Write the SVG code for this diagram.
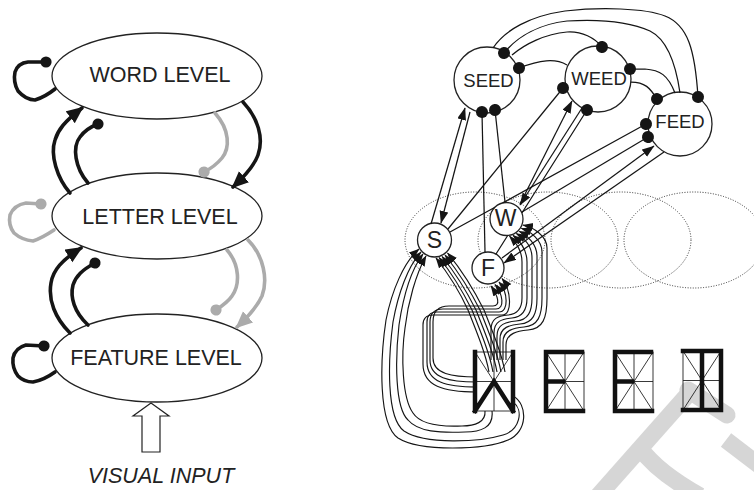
<svg xmlns="http://www.w3.org/2000/svg" width="754" height="490" viewBox="0 0 754 490">
<style>
.lbl{font-family:"Liberation Sans",Arial,Helvetica,sans-serif;fill:#222}
.big{font-size:21.5px}
.el{fill:#fff;stroke:#222;stroke-width:1.3}
.k{fill:none;stroke:#151515;stroke-width:3.6;stroke-linecap:round}
.g{fill:none;stroke:#ababab;stroke-width:3.6;stroke-linecap:round}
.ln{fill:none;stroke:#151515;stroke-width:1.25}
.tg{fill:none;stroke:#151515;stroke-width:1.15}
.pool{fill:none;stroke:#333;stroke-width:1;stroke-dasharray:1 1.6}
.nd{fill:#fff;stroke:#222;stroke-width:1.3}
.seg{fill:none;stroke:#222;stroke-width:0.9}
.on{fill:none;stroke:#111;stroke-width:4.5;stroke-linecap:square}
.wm{fill:none;stroke:#d6d6d6;stroke-width:17}
</style>
<defs>
<marker id="aK" markerUnits="userSpaceOnUse" markerWidth="20" markerHeight="18" refX="15" refY="7.5" orient="auto"><path d="M0,0 L17,7.5 L0,15 z" fill="#151515"/></marker>
<marker id="aG" markerUnits="userSpaceOnUse" markerWidth="20" markerHeight="18" refX="15" refY="7.5" orient="auto"><path d="M0,0 L17,7.5 L0,15 z" fill="#ababab"/></marker>
<marker id="dK" markerUnits="userSpaceOnUse" markerWidth="14" markerHeight="14" refX="7" refY="7" orient="auto"><circle cx="7" cy="7" r="5.6" fill="#151515"/></marker>
<marker id="dG" markerUnits="userSpaceOnUse" markerWidth="14" markerHeight="14" refX="7" refY="7" orient="auto"><circle cx="7" cy="7" r="5.6" fill="#ababab"/></marker>
<marker id="aR" markerUnits="userSpaceOnUse" markerWidth="14" markerHeight="10" refX="12" refY="4.5" orient="auto"><path d="M0,0 L12.5,4.5 L0,9 z" fill="#151515"/></marker>
<marker id="dR" markerUnits="userSpaceOnUse" markerWidth="14" markerHeight="14" refX="7" refY="7" orient="auto"><circle cx="7" cy="7" r="6" fill="#151515"/></marker>
<marker id="aT" markerUnits="userSpaceOnUse" markerWidth="12" markerHeight="9" refX="10" refY="4" orient="auto"><path d="M0,0 L10.5,4 L0,8 z" fill="#151515"/></marker>
<g id="disp" class="seg">
<rect x="0" y="0" width="38" height="59"/>
<path d="M19,0 V59 M0,29.5 H38 M0,0 L19,29.5 L38,0 M0,59 L19,29.5 L38,59"/>
</g>
</defs>
<rect width="754" height="490" fill="#fff"/>

<!-- faint background mark -->
<g id="background-mark">
<path class="wm" d="M598,496 L691,391"/>
<path class="wm" stroke-linecap="round" d="M688,390 L727,415"/>
<path class="wm" d="M640,448 C650,462 668,478 700,496"/>
<path class="wm" d="M726,440 L760,466"/>
</g>

<!-- LEFT DIAGRAM -->
<g id="word-level"><ellipse class="el" cx="157" cy="76" rx="105" ry="43"/><text class="lbl big" x="160" y="82" text-anchor="middle">WORD LEVEL</text></g>
<g id="letter-level"><ellipse class="el" cx="157" cy="216" rx="105" ry="43"/><text class="lbl big" x="160" y="224" text-anchor="middle">LETTER LEVEL</text></g>
<g id="feature-level"><ellipse class="el" cx="157" cy="358" rx="105" ry="44"/><text class="lbl big" x="156" y="365" text-anchor="middle">FEATURE LEVEL</text></g>
<g id="visual-input">
<polygon points="151,403 169,416 160,416 160,452 142,452 142,416 133,416" fill="#fff" stroke="#222" stroke-width="1.2"/>
<text class="lbl big" x="161" y="483" text-anchor="middle" font-style="italic">VISUAL INPUT</text>
</g>

<g id="left-connectors">
<path class="k" d="M55,89 Q45,97 35,100 Q26,100 18,91 Q13,82 15,72 Q18,63 28,62 L46,62" marker-end="url(#dK)"/>
<path class="g" d="M54,230 Q42,238 33,241 Q22,240 14,233 Q8,225 10,215 Q14,205 26,203 L41,204" marker-end="url(#dG)"/>
<path class="k" d="M55,372 Q44,380 33,382 Q24,382 18,376 Q12,368 13,358 Q15,348 26,345 L44,346" marker-end="url(#dK)"/>
<path class="k" d="M70,193 C57,178 50,155 55,140 C58,130 64,122 82,108" marker-end="url(#aK)"/>
<path class="k" d="M88,183 C75,168 72,147 80,137 C85,130 90,127 98,124" marker-end="url(#dK)"/>
<path class="k" d="M243,102 C258,118 264,138 258,155 C254,166 246,175 233,187" marker-end="url(#aK)"/>
<path class="g" d="M215,113 C230,130 230,148 222,158 C217,164 212,168 204,172" marker-end="url(#dG)"/>
<path class="k" d="M70,333 C55,318 48,300 51,283 C53,270 62,260 81,248" marker-end="url(#aK)"/>
<path class="k" d="M88,325 C74,312 70,297 73,285 C76,276 82,270 95,263" marker-end="url(#dK)"/>
<path class="g" d="M227,250 C240,265 240,285 232,296 C228,302 222,306 216,310" marker-end="url(#dG)"/>
<path class="g" d="M248,240 C264,256 268,280 262,296 C257,307 249,316 237,327" marker-end="url(#aG)"/>
</g>

<!-- RIGHT DIAGRAM -->
<g id="position-pools">
<ellipse class="pool" cx="475" cy="240" rx="70" ry="48"/>
<ellipse class="pool" cx="548" cy="240" rx="70" ry="48"/>
<ellipse class="pool" cx="621" cy="240" rx="70" ry="48"/>
<ellipse class="pool" cx="694" cy="240" rx="70" ry="48"/>
</g>

<g id="seed"><circle class="nd" cx="487" cy="80" r="33"/><text class="lbl" x="488.5" y="87" font-size="18.5" text-anchor="middle">SEED</text></g>
<g id="weed"><circle class="nd" cx="598" cy="79" r="33"/><text class="lbl" x="599" y="85" font-size="18.5" text-anchor="middle">WEED</text></g>
<g id="feed"><circle class="nd" cx="680" cy="124" r="32"/><text class="lbl" x="680" y="128" font-size="18.5" text-anchor="middle">FEED</text></g>
<g id="s"><circle class="nd" cx="434.5" cy="240" r="17"/><text class="lbl" x="434.5" y="248" font-size="23" text-anchor="middle">S</text></g>
<g id="w"><circle class="nd" cx="506.5" cy="219" r="16.5"/><text class="lbl" x="505.5" y="226" font-size="23" text-anchor="middle">W</text></g>
<g id="f"><circle class="nd" cx="488" cy="268" r="16"/><text class="lbl" x="488" y="276" font-size="23" text-anchor="middle">F</text></g>

<g id="display-1">
<use href="#disp" x="475" y="352"/>
<path class="on" transform="translate(475,352)" d="M0,0 V59 M38,0 V59 M0,59 L19,29.5 L38,59"/>
</g>
<g id="display-2">
<use href="#disp" x="546" y="352"/>
<path class="on" transform="translate(546,352)" d="M0,0 H36 M0,0 V59 M0,59 H37 M0,29.5 H17"/>
</g>
<g id="display-3">
<use href="#disp" x="615" y="352"/>
<path class="on" transform="translate(615,352)" d="M0,0 H36 M0,0 V59 M0,59 H37 M0,29.5 H17"/>
</g>
<g id="display-4">
<use href="#disp" x="683" y="351"/>
<path class="on" transform="translate(683,351)" d="M0,0 H38 M38,0 V59 M0,59 H38 M19,0 V59"/>
</g>

<g id="connectors">
<path class="ln" d="M493,48 C505,30 530,16 565,11 C600,7 645,8 665,16 C688,25 695,50 698,97" marker-end="url(#dR)"/>
<path class="ln" d="M680,93 C676,65 668,40 650,31 C630,22 600,19 567,21 C540,24 518,36 504,53" marker-end="url(#dR)"/>
<path class="ln" d="M512,55 C525,44 545,34 567,32 C582,31 595,38 602,47" marker-end="url(#dR)"/>
<path class="ln" d="M567,65 C555,58 540,60 519,68" marker-end="url(#dR)"/>
<path class="ln" d="M675,93 C668,75 660,70 645,69 L630,69" marker-end="url(#dR)"/>
<path class="ln" d="M631,82 C645,82 650,88 657,99" marker-end="url(#dR)"/>
<path class="ln" d="M431,224 L465,108" marker-end="url(#aR)"/>
<path class="ln" d="M470,112 L441,223" marker-end="url(#aR)"/>
<path class="ln" d="M485,252 L482,112" marker-end="url(#dR)"/>
<path class="ln" d="M505,202 L495,110" marker-end="url(#dR)"/>
<path class="ln" d="M448,229 L563,88" marker-end="url(#dR)"/>
<path class="ln" d="M450,232 L495,207.2 M502.7,202.9 L646,124" marker-end="url(#dR)"/>
<path class="ln" d="M520,204 L572,101" marker-end="url(#aR)"/>
<path class="ln" d="M582,108 L520,205" marker-end="url(#aR)"/>
<path class="ln" d="M496,254 L507.7,235.5 M521.9,213 L587,110" marker-end="url(#dR)"/>
<path class="ln" d="M522,212 L648,137" marker-end="url(#dR)"/>
<path class="ln" d="M502,258 L654,146" marker-end="url(#aR)"/>
<path class="ln" d="M664,152 L504,263" marker-end="url(#aR)"/>
<path class="tg" d="M513,396 C528,404 528,432 508,440 C485,450 420,452 398,438 C378,424 380,360 386,320 C392,290 404,262 419,249" marker-end="url(#aT)"/>
<path class="tg" d="M513,402 C524,410 520,430 503,435 C480,442 425,445 404,431 C386,418 388,360 393,322 C398,294 408,266 421,252" marker-end="url(#aT)"/>
<path class="tg" d="M492,411 C494,428 480,432 465,432 C440,433 418,432 408,420 C395,408 395,360 399,325 C403,298 411,270 423,254" marker-end="url(#aT)"/>
<path class="tg" d="M485,411 C486,422 475,426 462,426 C440,427 420,424 413,413 C402,398 401,355 405,328 C408,302 416,274 426,256" marker-end="url(#aT)"/>
<path class="tg" d="M489,372 C486,355 478,335 468,310 C458,288 447,272 436,258" marker-end="url(#aT)"/>
<path class="tg" d="M493,372 C490,355 482,335 472,310 C461,288 450,271 439,257.5" marker-end="url(#aT)"/>
<path class="tg" d="M497,372 C494,355 486,335 476,310 C465,288 453,270 442,256.5" marker-end="url(#aT)"/>
<path class="tg" d="M501,372 C498,355 490,335 480,310 C469,288 456,269 445,255" marker-end="url(#aT)"/>
<path class="tg" d="M505,372 C502,355 494,335 484,310 C473,288 460,268 447.5,253" marker-end="url(#aT)"/>
<path class="tg" d="M477,377 C452,377 433,374 433,358 L433,322 Q433,306 449,306 L493,306 C501,306 498,296 491,286" marker-end="url(#aT)"/>
<path class="tg" d="M477,382 C449,382 430,378 430,360 L430,322 Q430,309 443,309 L496,309 C505,309 503,294 495,284.5" marker-end="url(#aT)"/>
<path class="tg" d="M477,387 C446,387 427,382 427,362 L427,322 Q427,312 437,312 L499,312 C509,312 508,292 499,282" marker-end="url(#aT)"/>
<path class="tg" d="M477,392 C443,392 423,386 423,364 L423,325 Q423,315 433,315 L502,315 C513,315 511,290 502,278.5" marker-end="url(#aT)"/>
<path class="tg" d="M491,360 L491,330 C491,318 498,316 508,315 C518,314 522,308 522,298 L522,262 C522,250 516,243 509.5,236.2" marker-end="url(#aT)"/>
<path class="tg" d="M494,360 L494,333 C494,321 502,319 512,318 C523,317 527,310 527,298 L527,262 C527,250 520,241 513,235.2" marker-end="url(#aT)"/>
<path class="tg" d="M497,360 L497,336 C497,324 506,322 516,321 C528,320 532,312 532,298 L532,258 C532,246 524,238 516.3,233.5" marker-end="url(#aT)"/>
<path class="tg" d="M500,360 L500,339 C500,327 510,325 520,324 C533,323 537,314 537,298 L537,256 C537,244 527,235 519.1,231.2" marker-end="url(#aT)"/>
<path class="tg" d="M503,360 L503,342 C503,330 514,328 524,327 C538,326 542,316 542,298 L542,252 C542,240 530,231 521.3,228.3" marker-end="url(#aT)"/>
<path class="tg" d="M506,360 L506,345 C506,333 518,331 528,330 C543,329 547,318 547,298 L547,248 C547,236 533,227 523,225" marker-end="url(#aT)"/>
</g>
</svg>
